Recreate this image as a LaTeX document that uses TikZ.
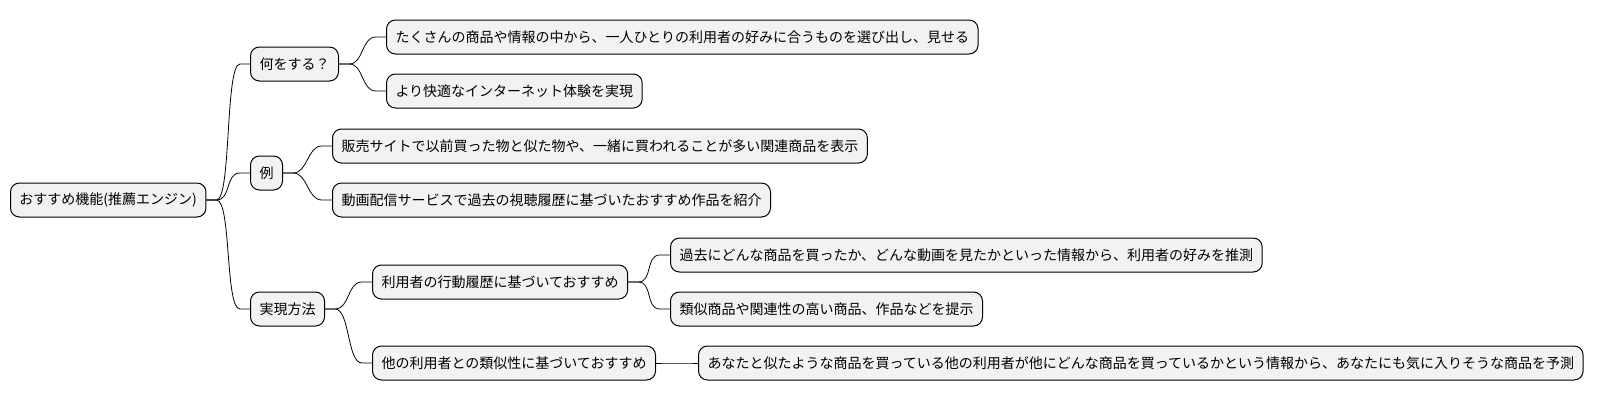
\documentclass[tikz,border=0pt]{standalone}
\usepackage{fontspec}
\setmainfont{Noto Sans CJK JP}
\begin{document}
\begin{tikzpicture}[x=1pt,y=-1pt,
  box/.style={draw=black,line width=1pt,fill=black!5,rounded corners=9pt,minimum height=34pt,inner xsep=9pt,anchor=west,font=\fontsize{14}{16}\selectfont},
  conn/.style={draw=black,line width=0.8pt}]
\useasboundingbox (0,0) rectangle (1619,415);
\node[box] (r) at (10,200) {おすすめ機能(推薦エンジン)};
\node[box] (a) at (250,64) {何をする？};
\node[box] (a1) at (386,37) {たくさんの商品や情報の中から、一人ひとりの利用者の好みに合うものを選び出し、見せる};
\node[box] (a2) at (386,91) {より快適なインターネット体験を実現};
\node[box] (b) at (250,173) {例};
\node[box] (b1) at (332,146) {販売サイトで以前買った物と似た物や、一緒に買われることが多い関連商品を表示};
\node[box] (b2) at (332,200) {動画配信サービスで過去の視聴履歴に基づいたおすすめ作品を紹介};
\node[box] (c) at (250,309) {実現方法};
\node[box] (c1) at (372,282) {利用者の行動履歴に基づいておすすめ};
\node[box] (c11) at (670,255) {過去にどんな商品を買ったか、どんな動画を見たかといった情報から、利用者の好みを推測};
\node[box] (c12) at (670,309) {類似商品や関連性の高い商品、作品などを提示};
\node[box] (c2) at (372,363) {他の利用者との類似性に基づいておすすめ};
\node[box] (c21) at (698,363) {あなたと似たような商品を買っている他の利用者が他にどんな商品を買っているかという情報から、あなたにも気に入りそうな商品を予測};
\foreach \p/\c in {r/a,r/b,r/c,a/a1,a/a2,b/b1,b/b2,c/c1,c/c2,c1/c11,c1/c12,c2/c21}{
  \draw[conn] (\p.east) -- ++(10,0) .. controls +(15,0) and +(-15,0) .. ([xshift=-10pt]\c.west) -- (\c.west);
}
\end{tikzpicture}
\end{document}
